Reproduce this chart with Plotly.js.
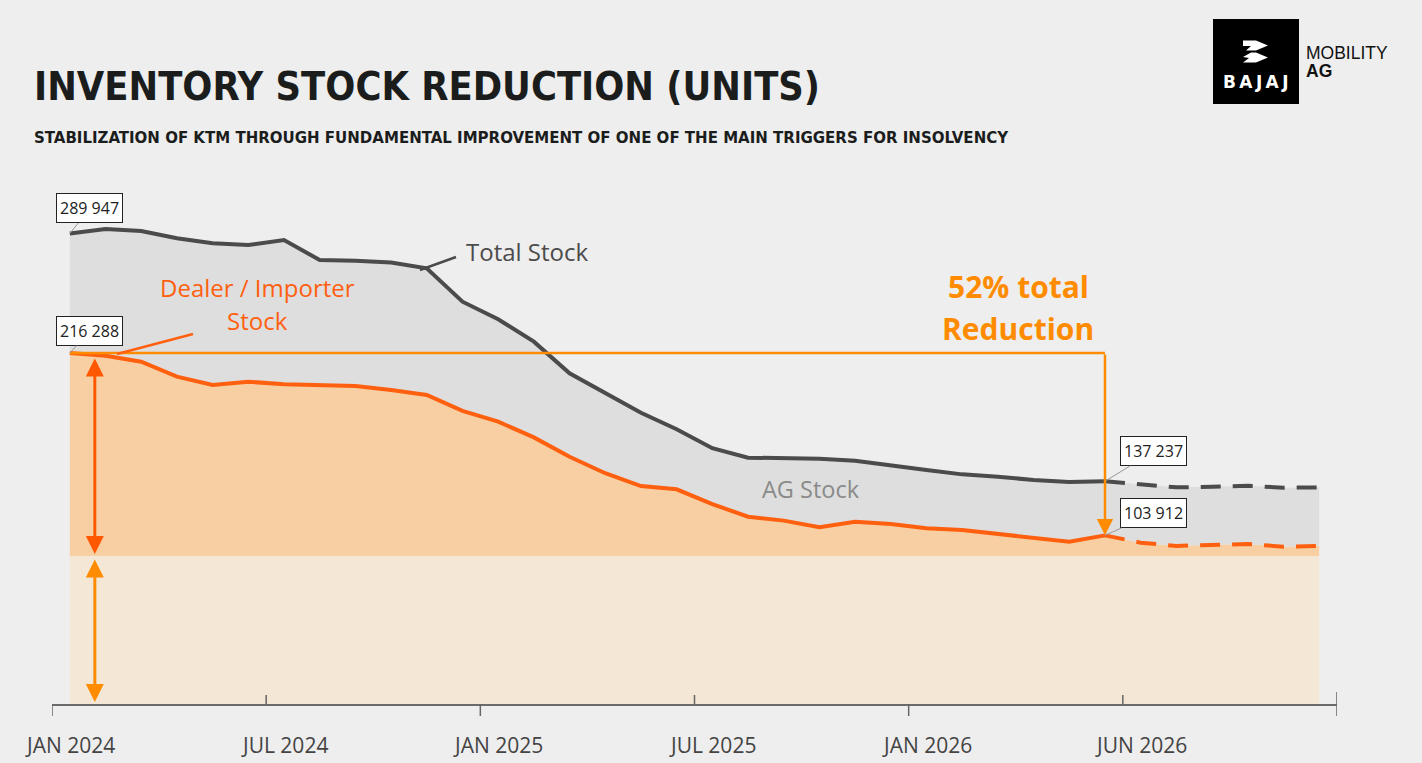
<!DOCTYPE html>
<html>
<head>
<meta charset="utf-8">
<script src="https://cdn.plot.ly/plotly-3.0.1.min.js"></script>
<style>
  html, body { margin: 0; padding: 0; background: #eeeeee; }
  #chart { width: 1422px; height: 763px; }
</style>
</head>
<body>
<div id="chart"></div>
<script>
// ---------- DATA ----------
// monthly points, Jan 2024 .. Dec 2026 (month index, mid-month)
const months = ["2024-01","2024-02","2024-03","2024-04","2024-05","2024-06","2024-07","2024-08","2024-09","2024-10","2024-11","2024-12",
                "2025-01","2025-02","2025-03","2025-04","2025-05","2025-06","2025-07","2025-08","2025-09","2025-10","2025-11","2025-12",
                "2026-01","2026-02","2026-03","2026-04","2026-05","2026-06","2026-07","2026-08","2026-09","2026-10","2026-11","2026-12"];
const totalStock = [289947,292700,291500,287000,283900,282800,285900,273600,273200,272000,268500,247900,
                    237100,223300,203800,191500,179500,169300,157600,151800,151600,151200,149900,146800,
                    144200,141500,140100,138000,136800,137237,135400,133500,133900,134500,133300,133500];
const dealerStock = [216288,214600,210900,201700,196600,198600,197000,196200,196000,193500,190400,180600,
                     174000,164300,152400,142200,134300,132300,123200,115400,113000,108900,112300,110900,
                     108300,107200,104800,102100,100000,103912,99400,97400,98200,98600,96900,97400];
const baseLevel = 91200;          // lower pale band level
const actualCount = 30;           // months with actual (solid) data, through Jun 2026
const tickLabels = ["JAN 2024","JUL 2024","JAN 2025","JUL 2025","JAN 2026","JUN 2026"];
const tickMonths = [0, 6, 12, 18, 24, 30, 36];

// ---------- GEOMETRY HELPERS ----------
const PL = 52, PR = 1337, PT = 190, PB = 704;
const xIdx = months.map((m, i) => i + 0.5);
const px2paperX = p => (p - PL) / (PR - PL);
const px2paperY = p => (PB - p) / (PB - PT);

const solidX = xIdx.slice(0, actualCount);
const dashX = xIdx.slice(actualCount - 1);

const cGrayFill = '#dedede', cOrangeFill = '#f8cfa2', cBand = '#f5e7d5';
const cTotal = '#4b4b4b', cDealer = '#ff600f', cBright = '#ff8c00', cRed = '#ff5800';

const traces = [
  {x: [xIdx[0], xIdx[xIdx.length-1]], y: [baseLevel, baseLevel], mode: 'lines', line: {width: 0},
   fill: 'tozeroy', fillcolor: cBand, hoverinfo: 'skip'},
  {x: xIdx, y: dealerStock, mode: 'lines', line: {width: 0}, fill: 'tonexty', fillcolor: cOrangeFill, hoverinfo: 'skip'},
  {x: xIdx, y: totalStock, mode: 'lines', line: {width: 0}, fill: 'tonexty', fillcolor: cGrayFill, hoverinfo: 'skip'},
  {x: solidX, y: totalStock.slice(0, actualCount), mode: 'lines', line: {color: cTotal, width: 4}},
  {x: dashX, y: totalStock.slice(actualCount - 1), mode: 'lines', line: {color: cTotal, width: 4, dash: '20px,12px'}},
  {x: solidX, y: dealerStock.slice(0, actualCount), mode: 'lines', line: {color: cDealer, width: 4}},
  {x: dashX, y: dealerStock.slice(actualCount - 1), mode: 'lines', line: {color: cDealer, width: 4, dash: '20px,12px'}}
];

const lastA = actualCount - 1;
const shapes = [];
// 52% reference line
shapes.push({type: 'line', xref: 'x', yref: 'y', x0: xIdx[0], x1: xIdx[lastA], y0: dealerStock[0], y1: dealerStock[0],
             line: {color: cBright, width: 2.5}});
// axis tick marks
tickMonths.forEach((m, i) => {
  const last = i === tickMonths.length - 1;
  const down = (i % 2 === 0) || last;
  const up = (i % 2 === 1) || last;
  shapes.push({type: 'line', xref: 'x', yref: 'paper', x0: m, x1: m,
               y0: down ? -12 / (PB - PT) : 0, y1: up ? (last ? 12 : 9) / (PB - PT) : 0,
               line: {color: '#666666', width: 1.5}});
});
// leader lines for labels
shapes.push({type: 'line', xref: 'paper', yref: 'paper', x0: px2paperX(420), y0: px2paperY(270), x1: px2paperX(456), y1: px2paperY(257),
             line: {color: cTotal, width: 2.5}});
shapes.push({type: 'line', xref: 'paper', yref: 'paper', x0: px2paperX(117), y0: px2paperY(354), x1: px2paperX(193), y1: px2paperY(334),
             line: {color: cDealer, width: 2.5}});
// logo
shapes.push({type: 'rect', xref: 'paper', yref: 'paper', x0: px2paperX(1213), x1: px2paperX(1299), y0: px2paperY(104), y1: px2paperY(19),
             fillcolor: '#000000', line: {width: 0}});
function pathPx(pts) {
  return 'M' + pts.map(p => px2paperX(p[0]).toFixed(5) + ',' + px2paperY(p[1]).toFixed(5)).join(' L') + ' Z';
}
shapes.push({type: 'path', xref: 'paper', yref: 'paper', fillcolor: '#ffffff', line: {width: 0},
             path: pathPx([[1243,40.5],[1256,40.5],[1268,45.5],[1256,50.5],[1246,50.5],[1251,46],[1243,46]])});
shapes.push({type: 'path', xref: 'paper', yref: 'paper', fillcolor: '#ffffff', line: {width: 0},
             path: pathPx([[1243,57],[1251,52.5],[1256,52.5],[1268,57.5],[1256,62.5],[1243,62.5],[1249,58]])});

const fLab = 'Open Sans, Noto Sans, sans-serif';
const annotations = [];
// x tick labels
tickLabels.forEach((t, i) => {
  annotations.push({x: tickMonths[i] + 0.5, y: -41 / (PB - PT), xref: 'x', yref: 'paper', text: t, showarrow: false,
                    xanchor: 'center', yanchor: 'middle', font: {family: fLab, size: 21, color: '#444444'}});
});
// value boxes
function valBox(i, series, ax, ay) {
  const v = series[i];
  annotations.push({x: xIdx[i], y: v, xref: 'x', yref: 'y', text: v.toLocaleString('en-US').replace(/,/g, ' '),
                    showarrow: true, arrowhead: 0, arrowwidth: 1, arrowcolor: '#999999', ax: ax, ay: ay,
                    bgcolor: '#ffffff', bordercolor: '#222222', borderwidth: 1, borderpad: 3,
                    font: {family: fLab, size: 16, color: '#222222'}});
}
valBox(0, totalStock, 20, -25);
valBox(0, dealerStock, 20, -22);
valBox(lastA, totalStock, 49, -30);
valBox(lastA, dealerStock, 49, -22);
// reduction arrow down
annotations.push({x: xIdx[lastA], y: dealerStock[lastA], ax: xIdx[lastA], ay: dealerStock[0], xref: 'x', yref: 'y',
                  axref: 'x', ayref: 'y', showarrow: true, arrowhead: 2, arrowsize: 1.3, arrowwidth: 2.5,
                  arrowcolor: cBright, text: '', standoff: 0});
// double arrows on the left
const arrX = 1.2;
annotations.push({x: arrX, y: baseLevel, ax: arrX, ay: dealerStock[0], xref: 'x', yref: 'y', axref: 'x', ayref: 'y',
                  showarrow: true, arrowhead: 2, arrowside: 'end+start', arrowsize: 1.2, arrowwidth: 3,
                  arrowcolor: cRed, text: '', standoff: 2, startstandoff: 4});
annotations.push({x: arrX, y: 0, ax: arrX, ay: baseLevel, xref: 'x', yref: 'y', axref: 'x', ayref: 'y',
                  showarrow: true, arrowhead: 2, arrowside: 'end+start', arrowsize: 1.2, arrowwidth: 3,
                  arrowcolor: cBright, text: '', standoff: 2, startstandoff: 2});
// series labels
function txt(px, py, text, size, color, anchor, bold, family) {
  annotations.push({x: px2paperX(px), y: px2paperY(py), xref: 'paper', yref: 'paper', text: text, showarrow: false,
                    xanchor: anchor, yanchor: 'middle',
                    font: {family: family || fLab, size: size, color: color, weight: bold ? 'bold' : 'normal'}});
}
txt(464, 251, 'Total Stock', 24, '#4b4b4b', 'left');
txt(257, 287, 'Dealer / Importer', 24, cDealer, 'center');
txt(257, 320, 'Stock', 24, cDealer, 'center');
txt(811, 489, 'AG Stock', 23.5, '#8a8a8a', 'center');
txt(1018, 286, '52% total', 30, cBright, 'center', true);
txt(1018, 328, 'Reduction', 30, cBright, 'center', true);
// title & subtitle
txt(32, 86, 'INVENTORY STOCK REDUCTION (UNITS)', 39.4, '#1b1d1d', 'left', true, 'Liberation Sans Narrow, DejaVu Sans Condensed, sans-serif');
txt(32, 137, 'STABILIZATION OF KTM THROUGH FUNDAMENTAL IMPROVEMENT OF ONE OF THE MAIN TRIGGERS FOR INSOLVENCY', 16.7, '#1b1d1d', 'left', true, 'Liberation Sans Narrow, DejaVu Sans Condensed, sans-serif');
// logo text
txt(1256, 82, 'B\u2009A\u2009J\u2009A\u2009J', 17, '#ffffff', 'center', true, 'DejaVu Sans, sans-serif');
txt(1304, 53, 'MOBILITY', 17.5, '#111111', 'left', false, 'Liberation Sans, Arial, sans-serif');
txt(1304, 71, 'AG', 17.5, '#111111', 'left', true, 'Liberation Sans, Arial, sans-serif');

const layout = {
  width: 1422, height: 763,
  margin: {l: PL, r: 1422 - PR, t: PT, b: 763 - PB},
  paper_bgcolor: '#eeeeee', plot_bgcolor: 'rgba(0,0,0,0)',
  showlegend: false,
  xaxis: {range: [0, 36], showgrid: false, zeroline: false, showline: true, linecolor: '#6b6b6b', linewidth: 2,
          ticks: '', showticklabels: false, fixedrange: true},
  yaxis: {range: [0, (PB - PT) / 0.0016228], visible: false, fixedrange: true},
  shapes: shapes,
  annotations: annotations
};

Plotly.newPlot('chart', traces, layout, {displayModeBar: false, staticPlot: true});
</script>
</body>
</html>
